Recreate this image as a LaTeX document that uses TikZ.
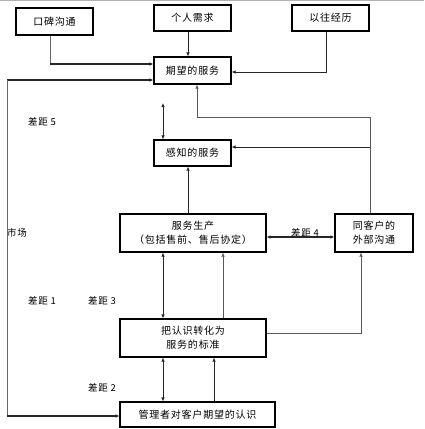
\documentclass[tikz,border=0pt]{standalone}
\usepackage{fontspec}
\setmainfont{Liberation Serif}
\newfontfamily\cjk[LetterSpace=8]{Noto Sans CJK SC}
\usetikzlibrary{arrows.meta}
\begin{document}
\begin{tikzpicture}[x=1pt,y=-1pt,
  box/.style={draw=black,line width=1.1pt,fill=white,align=center,inner sep=0pt,
    font=\cjk\fontsize{10}{14}\selectfont},
  conn/.style={line width=0.7pt,draw=black!85,-{Latex[length=4pt,width=3.5pt]}},
  dconn/.style={line width=0.7pt,draw=black!85,{Latex[length=4pt,width=3.5pt]}-{Latex[length=4pt,width=3.5pt]}},
  thin/.style={line width=0.7pt,draw=black!60},
  lbl/.style={font=\cjk\fontsize{9.5}{11}\selectfont,inner sep=0pt}]
\useasboundingbox (0,0) rectangle (424,429);
\draw[gray!60,line width=0.8pt] (0,0.5) -- (424,0.5);
% boxes
\node[box,minimum width=77pt,minimum height=27pt] (koubei) at (54.5,21.5) {口碑沟通};
\node[box,minimum width=77pt,minimum height=26pt] (geren) at (192.5,18) {个人需求};
\node[box,minimum width=77pt,minimum height=26pt] (yiwang) at (330.5,18) {以往经历};
\node[box,minimum width=77pt,minimum height=27pt] (qiwang) at (192.5,70.5) {期望的服务};
\node[box,minimum width=77pt,minimum height=26pt] (ganzhi) at (192.5,153) {感知的服务};
\node[box,minimum width=146pt,minimum height=38pt] (shengchan) at (193,233) {服务生产\\（包括售前、售后协定）};
\node[box,minimum width=78pt,minimum height=38pt] (waibu) at (374,233) {同客户的\\外部沟通};
\node[box,minimum width=146pt,minimum height=38pt] (zhuanhua) at (193,338) {把认识转化为\\服务的标准};
\node[box,minimum width=155pt,minimum height=25pt] (guanli) at (197.5,414.5) {管理者对客户期望的认识};
% labels
\node[lbl] (g5) at (42,122) {差距 5};
\node[lbl] (sc) at (17,233) {市场};
\node[lbl] (g1) at (42,301) {差距 1};
\node[lbl] (g3) at (102,301) {差距 3};
\node[lbl] (g2) at (102,388) {差距 2};
\node[lbl] (g4) at (305,233) {差距 4};
% coordinates
\coordinate (mtop) at (7,80);
\coordinate (mbot) at (7,416);
\coordinate (kb) at (50,64);
\coordinate (q1) at (197,117);
\coordinate (b1) at (370,147);
\coordinate (g5top) at (163,103);
% connectors
\draw[thin] ([xshift=-4.5pt]koubei.south) -- (kb);
\draw[conn,line width=1.2pt] (kb) -- (kb -| qiwang.west);
\draw[conn] ([xshift=-4.5pt]geren.south) -- ([xshift=-4.5pt]qiwang.north);
\draw[conn] ([xshift=-4.5pt]yiwang.south) |- ([yshift=-1.5pt]qiwang.east);
\draw[conn,line width=1.2pt] (mtop) -- (mtop -| qiwang.west);
\draw[thin] (mtop) -- (mbot);
\draw[conn,line width=1.2pt] (mbot) -- (mbot -| guanli.west);
\draw[dconn] (g5top) -- (g5top |- ganzhi.north);
\draw[conn,draw=black!65] ([xshift=-4pt]waibu.north) |- (q1) -- (q1 |- qiwang.south);
\draw[conn] (b1) -- (b1 -| ganzhi.east);
\draw[conn] ([xshift=-5pt]shengchan.north) -- ([xshift=-4.5pt]ganzhi.south);
\draw[dconn,line width=1.2pt] ([yshift=-4pt]shengchan.east) -- ([yshift=-4pt]waibu.west);
\draw[dconn] ([xshift=-30pt]shengchan.south) -- ([xshift=-30pt]zhuanhua.north);
\draw[conn,draw=black!65] ([xshift=30pt]zhuanhua.north) -- ([xshift=30pt]shengchan.south);
\draw[conn,draw=black!65] ([yshift=5pt]zhuanhua.east) -| ([xshift=-13pt]waibu.south);
\draw[dconn] ([xshift=-30pt]zhuanhua.south) -- ([xshift=-34.5pt]guanli.north);
\draw[conn] ([xshift=16.5pt]guanli.north) -- ([xshift=21pt]zhuanhua.south);
\end{tikzpicture}
\end{document}
